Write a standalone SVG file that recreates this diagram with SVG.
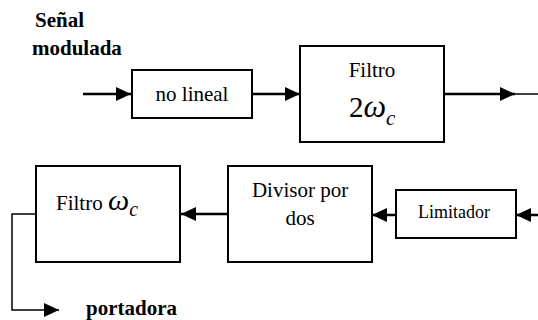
<svg xmlns="http://www.w3.org/2000/svg" width="538" height="320" viewBox="0 0 538 320">
<style>
.box{fill:#fff;stroke:#000;stroke-width:2}
.t{font-family:'Liberation Serif','Times New Roman','DejaVu Serif',serif;font-size:21px;fill:#000}
.b{font-weight:bold}
.i{font-style:italic}
.c{fill:none;stroke:#000;stroke-width:2.5}
.thin{fill:none;stroke:#000;stroke-width:1.5}
</style>
<defs>
<marker id="ah" markerUnits="userSpaceOnUse" markerWidth="15" markerHeight="14" refX="15" refY="7" orient="auto">
<path d="M0,0 L15,7 L0,14 Z" fill="#000"/>
</marker>
</defs>
<g id="labels">
<text class="t b" x="35" y="27">Señal</text>
<text class="t b" x="32" y="55">modulada</text>
<text class="t b" x="86" y="315">portadora</text>
</g>
<g id="connectors">
<line class="c" x1="83" y1="94" x2="131" y2="94" marker-end="url(#ah)"/>
<line class="c" x1="252" y1="94" x2="300" y2="94" marker-end="url(#ah)"/>
<line class="c" x1="444" y1="94" x2="515" y2="94" marker-end="url(#ah)"/>
<line class="thin" x1="514" y1="94" x2="538" y2="94"/>
<line class="c" x1="538" y1="215" x2="516" y2="215" marker-end="url(#ah)"/>
<line class="c" x1="396" y1="215" x2="372" y2="215" marker-end="url(#ah)"/>
<line class="c" x1="228" y1="214" x2="181" y2="214" marker-end="url(#ah)"/>
<path class="thin" d="M36,214 H12 V310 H59" marker-end="url(#ah)"/>
</g>
<g id="nolineal">
<rect class="box" x="132" y="70" width="120" height="48"/>
<text class="t" x="192" y="101" text-anchor="middle">no lineal</text>
</g>
<g id="filtro2wc">
<rect class="box" x="300" y="46" width="144" height="96"/>
<text class="t" x="372" y="77" text-anchor="middle">Filtro</text>
<text class="t" x="349" y="117" style="font-size:29px">2<tspan class="i" style="font-size:32px">ω</tspan><tspan class="i" style="font-size:21px" dy="8">c</tspan></text>
</g>
<g id="filtrowc">
<rect class="box" x="36" y="166" width="144" height="96"/>
<text class="t" x="56" y="210">Filtro <tspan class="i" style="font-size:30px">ω</tspan><tspan class="i" style="font-size:20px" dy="6">c</tspan></text>
</g>
<g id="divisor">
<rect class="box" x="228" y="166" width="144" height="96"/>
<text class="t" x="300" y="197" text-anchor="middle">Divisor por</text>
<text class="t" x="300" y="225" text-anchor="middle">dos</text>
</g>
<g id="limitador">
<rect class="box" x="396" y="190" width="120" height="48"/>
<text class="t" x="454" y="218" text-anchor="middle" style="font-size:18px">Limitador</text>
</g>
</svg>
